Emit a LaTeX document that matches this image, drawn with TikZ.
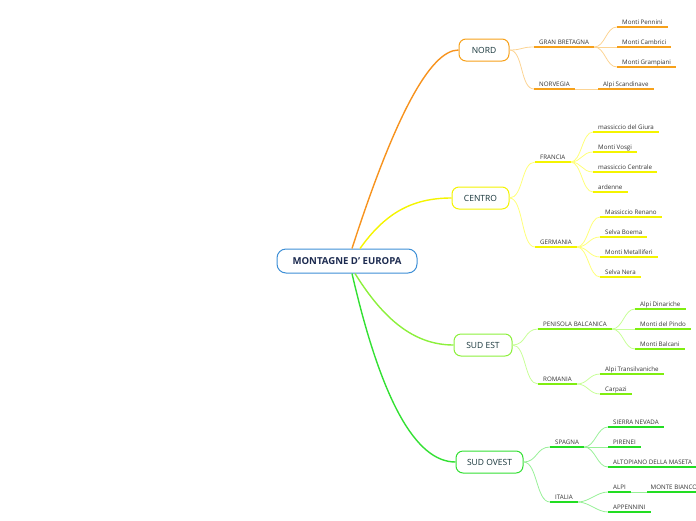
\documentclass[tikz,border=0pt]{standalone}
\usepackage{fontspec}
\setmainfont{Open Sans}
\usetikzlibrary{calc}
\definecolor{rootb}{HTML}{3D8FD6}
\definecolor{roott}{HTML}{1D2B50}
\definecolor{topict}{HTML}{17353A}
\definecolor{leaft}{HTML}{333333}
\definecolor{oM}{HTML}{F7A11A}
\definecolor{oL}{HTML}{FCD494}
\definecolor{oR}{HTML}{F7931E}
\definecolor{yM}{HTML}{F4F400}
\definecolor{yL}{HTML}{FFFF7A}
\definecolor{lM}{HTML}{8CF03C}
\definecolor{lU}{HTML}{80EE10}
\definecolor{lL}{HTML}{C8FF98}
\definecolor{gM}{HTML}{33E033}
\definecolor{gU}{HTML}{22DD22}
\definecolor{gL}{HTML}{98F098}
\begin{document}
\begin{tikzpicture}[x=1pt,y=-1pt,
  rootnode/.style={draw=rootb, line width=1pt, rounded corners=9pt, fill=white,
    minimum width=140pt, minimum height=24pt, text=roott,
    font=\fontsize{9.6}{11}\selectfont\bfseries},
  topic/.style={draw, line width=1pt, rounded corners=7pt, fill=white,
    minimum height=22pt, text=topict, font=\fontsize{8.5}{10}\selectfont},
  leaf/.style={anchor=south west, inner xsep=5pt, inner ysep=2pt, text depth=0.8pt,
    text=leaft, font=\fontsize{6.2}{7}\selectfont},
  ulO/.style={draw=oM, line width=1.4pt},
  ulY/.style={draw=yM, line width=1.4pt},
  ulL/.style={draw=lU, line width=1.4pt},
  ulG/.style={draw=gU, line width=1.4pt},
  link/.style={line width=0.8pt},
  main/.style={line width=1.4pt}
]
\useasboundingbox (0,0) rectangle (696,520);
\clip (0,0) rectangle (696,520);

% root and topics
\node[rootnode] (root) at (347,261) {MONTAGNE D' EUROPA};
\node[topic, draw=oM, minimum width=50pt] (nord) at (484,50) {NORD};
\node[topic, draw=yM, minimum width=57pt] (centro) at (480.5,198) {CENTRO};
\node[topic, draw=lM, minimum width=58pt] (sudest) at (483,345) {SUD EST};
\node[topic, draw=gM, minimum width=67pt] (sudovest) at (489.5,462) {SUD OVEST};

% NORD leaves
\node[leaf] (gb) at (534,47) {GRAN BRETAGNA};
\node[leaf] (pen) at (617,27) {Monti Pennini};
\node[leaf] (cam) at (617,47) {Monti Cambrici};
\node[leaf] (gra) at (617,67) {Monti Grampiani};
\node[leaf] (nor) at (534,89) {NORVEGIA};
\node[leaf] (sca) at (598,89) {Alpi Scandinave};
% CENTRO leaves
\node[leaf] (fra) at (535,162) {FRANCIA};
\node[leaf] (giu) at (593,132) {massiccio del Giura};
\node[leaf] (vos) at (593,152) {Monti Vosgi};
\node[leaf] (mce) at (593,172) {massiccio Centrale};
\node[leaf] (ard) at (593,192) {ardenne};
\node[leaf] (ger) at (535,247) {GERMANIA};
\node[leaf] (ren) at (600,217) {Massiccio Renano};
\node[leaf] (boe) at (600,237) {Selva Boema};
\node[leaf] (met) at (600,257) {Monti Metalliferi};
\node[leaf] (ner) at (600,277) {Selva Nera};
% SUD EST leaves
\node[leaf] (bal) at (538,329) {PENISOLA BALCANICA};
\node[leaf] (din) at (635,309) {Alpi Dinariche};
\node[leaf] (pin) at (635,329) {Monti del Pindo};
\node[leaf] (bca) at (635,349) {Monti Balcani};
\node[leaf] (rom) at (538,384) {ROMANIA};
\node[leaf] (tra) at (600,374) {Alpi Transilvaniche};
\node[leaf] (car) at (600,394) {Carpazi};
% SUD OVEST leaves
\node[leaf] (spa) at (550,447) {SPAGNA};
\node[leaf] (sie) at (608,427) {SIERRA NEVADA};
\node[leaf] (pir) at (608,447) {PIRENEI};
\node[leaf] (alt) at (608,467) {ALTOPIANO DELLA MASETA};
\node[leaf] (ita) at (550,502) {ITALIA};
\node[leaf] (alp) at (608,492) {ALPI};
\node[leaf, inner xsep=3.5pt] (mbi) at (647,492) {MONTE BIANCO};
\node[leaf] (app) at (608,512) {APPENNINI};

% main branches
\draw[main, oR] ($(root.north)+(5,0)$) .. controls +(43,-133) and +(-28,0) .. (nord.west);
\draw[main, yM] ($(root.north)+(13,0)$) .. controls +(25,-35) and +(-40,0) .. (centro.west);
\draw[main, lM] ($(root.south)+(8,0)$) .. controls +(28,45) and +(-40,0) .. (sudest.west);
\draw[main, gM] ($(root.south)+(5,0)$) .. controls +(29,126) and +(-40,0) .. (sudovest.west);

% topic -> subtopic
\foreach \t/\s/\c in {nord/gb/oL, nord/nor/oL, centro/fra/yL, centro/ger/yL,
                      sudest/bal/lL, sudest/rom/lL, sudovest/spa/gL, sudovest/ita/gL}
  \draw[link, \c] (\t.east) .. controls +(14,0) and +(-14,0) .. (\s.south west);

% subtopic -> leaf
\foreach \p/\k/\c in {gb/pen/oL, gb/cam/oL, gb/gra/oL,
                      fra/giu/yL, fra/vos/yL, fra/mce/yL, fra/ard/yL,
                      ger/ren/yL, ger/boe/yL, ger/met/yL, ger/ner/yL,
                      bal/din/lL, bal/pin/lL, bal/bca/lL, rom/tra/lL, rom/car/lL,
                      spa/sie/gL, spa/pir/gL, spa/alt/gL, ita/alp/gL, ita/app/gL}
  \draw[link, \c] (\p.south east) .. controls +(11,0) and +(-11,0) .. (\k.south west);
\draw[link, oL] (nor.south east) -- (sca.south west);
\draw[link, gL] (alp.south east) -- (mbi.south west);

% underlines
\foreach \n in {gb,pen,cam,gra,nor,sca}
  \draw[ulO] (\n.south west) -- (\n.south east);
\foreach \n in {fra,giu,vos,mce,ard,ger,ren,boe,met,ner}
  \draw[ulY] (\n.south west) -- (\n.south east);
\foreach \n in {bal,din,pin,bca,rom,tra,car}
  \draw[ulL] (\n.south west) -- (\n.south east);
\foreach \n in {spa,sie,pir,alt,ita,alp,mbi,app}
  \draw[ulG] (\n.south west) -- (\n.south east);
\end{tikzpicture}
\end{document}
